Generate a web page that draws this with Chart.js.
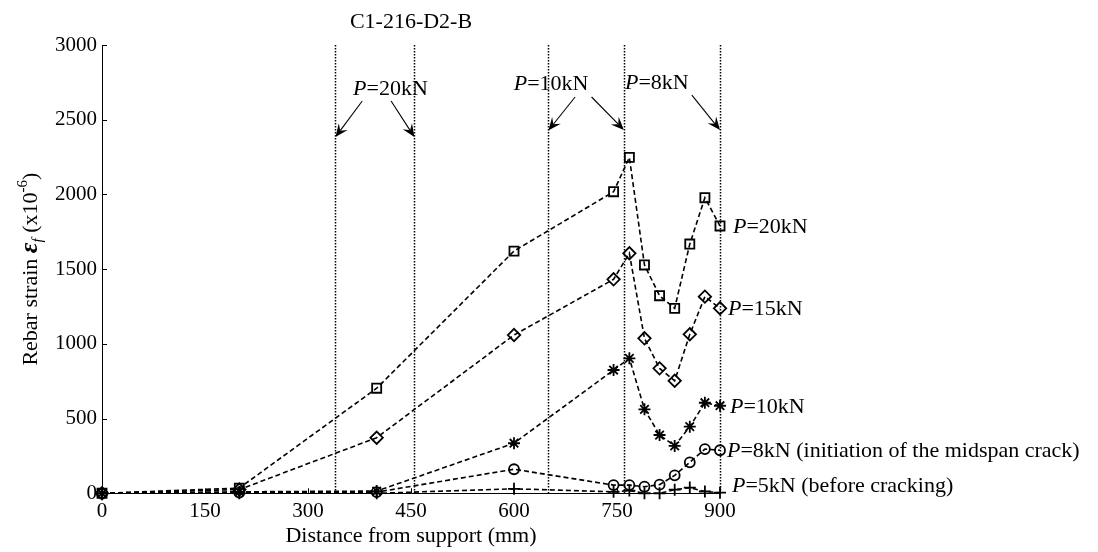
<!DOCTYPE html>
<html>
<head>
<meta charset="utf-8">
<script src="https://cdn.jsdelivr.net/npm/chart.js@4.4.1/dist/chart.umd.min.js"></script>
<style>
  html, body { margin: 0; padding: 0; background: #ffffff; }
  #wrap { width: 1098px; height: 552px; position: relative; }
</style>
</head>
<body>
<div id="wrap"><canvas id="c" width="1098" height="552"></canvas></div>
<script>
// Gauge positions along the bar (mm from support)
const distances = [0, 200, 400, 600, 745, 768, 790, 812, 834, 856, 878, 900];

// Rebar strain (x10^-6) at each load step
const strain20kN = [0, 35, 703, 1621, 2018, 2248, 1528, 1322, 1238, 1668, 1978, 1789];
const strain15kN = [0, 25, 372, 1059, 1432, 1606, 1037, 836, 753, 1064, 1316, 1238];
const strain10kN = [0, 10, 15, 335, 825, 903, 562, 390, 317, 446, 606, 586];
const strain8kN  = [0, 5, 8, 161, 55, 55, 44, 58, 120, 207, 296, 288];
const strain5kN  = [0, 0, 0, 30, 10, 18, 0, 0, 24, 38, 12, 4];

// Axis ticks
const xTicks = [0, 150, 300, 450, 600, 750, 900];
const yTicks = [0, 500, 1000, 1500, 2000, 2500, 3000];

// Crack locations observed at the given loads (mm)
const crackLines = [340, 455, 650, 760, 900];

// Series end labels (the italic P is drawn separately)
const seriesLoads = ['=20kN', '=15kN', '=10kN', '=8kN (initiation of the midspan crack)', '=5kN (before cracking)'];
const markerStyles = ['rect', 'rectRot', 'star', 'circle', 'cross'];

// Load labels pointing at the crack lines: [x mm, strain] anchors
const crackNotes = [
  { load: '=20kN', at: [420, 2712], arrows: [[[379, 2625], [340, 2384]], [[421, 2625], [455, 2384]]] },
  { load: '=10kN', at: [654, 2746], arrows: [[[689, 2652], [650, 2428]], [[713, 2652], [760, 2432]]] },
  { load: '=8kN',  at: [808, 2754], arrows: [[[859, 2665], [900, 2431]]] }
];

const FONT = 'Liberation Serif';
const seriesValues = [strain20kN, strain15kN, strain10kN, strain8kN, strain5kN];
const pointRadii = [6.4, 6.2, 6, 5, 6];
const endLabelDx = [13, 8, 10, 7, 12];
const endLabelDy = [0, 0, 0, 0, -8];

function drawRuns(ctx, runs, x, y, align) {
  let total = 0;
  runs.forEach(r => { ctx.font = r.f; total += ctx.measureText(r.t).width; });
  let cx = align === 'center' ? x - total / 2 : x;
  runs.forEach(r => {
    ctx.font = r.f;
    ctx.fillText(r.t, cx, y + (r.dy || 0));
    cx += ctx.measureText(r.t).width;
  });
}

function drawArrow(ctx, x1, y1, x2, y2) {
  const ang = Math.atan2(y2 - y1, x2 - x1);
  const len = 13, half = 5.5, notch = 8;
  const cs = Math.cos(ang), sn = Math.sin(ang);
  ctx.beginPath();
  ctx.moveTo(x1, y1);
  ctx.lineTo(x2 - cs * notch, y2 - sn * notch);
  ctx.lineWidth = 1.1;
  ctx.strokeStyle = '#000';
  ctx.stroke();
  const bx = x2 - cs * len, by = y2 - sn * len;
  const nx = -sn, ny = cs;
  ctx.beginPath();
  ctx.moveTo(x2, y2);
  ctx.lineTo(bx + nx * half, by + ny * half);
  ctx.lineTo(x2 - cs * notch, y2 - sn * notch);
  ctx.lineTo(bx - nx * half, by - ny * half);
  ctx.closePath();
  ctx.fillStyle = '#000';
  ctx.fill();
}

const decorations = {
  id: 'decorations',
  beforeDatasetsDraw(chart) {
    const { ctx, chartArea, scales: { x, y } } = chart;
    ctx.save();
    // dotted crack lines
    ctx.strokeStyle = '#000';
    ctx.lineWidth = 1.5;
    ctx.setLineDash([1.5, 1.5]);
    crackLines.forEach(v => {
      const px = Math.round(x.getPixelForValue(v)) + 0.5;
      ctx.beginPath();
      ctx.moveTo(px, chartArea.top);
      ctx.lineTo(px, chartArea.bottom);
      ctx.stroke();
    });
    ctx.setLineDash([]);
    // inward tick marks
    ctx.lineWidth = 1;
    yTicks.forEach(v => {
      const py = Math.round(y.getPixelForValue(v)) + 0.5;
      ctx.beginPath();
      ctx.moveTo(chartArea.left, py);
      ctx.lineTo(chartArea.left + 5, py);
      ctx.stroke();
    });
    xTicks.forEach(v => {
      const px = Math.round(x.getPixelForValue(v)) + 0.5;
      ctx.beginPath();
      ctx.moveTo(px, chartArea.bottom);
      ctx.lineTo(px, chartArea.bottom - 5);
      ctx.stroke();
    });
    ctx.restore();
  },
  afterDraw(chart) {
    const { ctx, chartArea, scales: { x, y } } = chart;
    ctx.save();
    ctx.fillStyle = '#000';
    ctx.textBaseline = 'alphabetic';
    ctx.textAlign = 'left';
    const big = '22px ' + FONT, ital = 'italic 22px ' + FONT;

    // title
    drawRuns(ctx, [{ t: 'C1-216-D2-B', f: big }], (chartArea.left + chartArea.right) / 2, 28, 'center');

    // x axis title
    drawRuns(ctx, [{ t: 'Distance from support (mm)', f: big }], (chartArea.left + chartArea.right) / 2, 542, 'center');

    // y axis title
    ctx.save();
    ctx.translate(37, (chartArea.top + chartArea.bottom) / 2);
    ctx.rotate(-Math.PI / 2);
    drawRuns(ctx, [
      { t: 'Rebar strain ', f: big },
      { t: '\u03b5', f: 'italic bold 26px ' + FONT },
      { t: 'f', f: 'italic 15px ' + FONT, dy: 5 },
      { t: ' (x10', f: big },
      { t: '-6', f: '15px ' + FONT, dy: -10 },
      { t: ')', f: big }
    ], 0, 0, 'center');
    ctx.restore();

    // series end labels
    seriesValues.forEach((vals, i) => {
      const last = vals.length - 1;
      const px = x.getPixelForValue(distances[last]) + endLabelDx[i];
      const py = y.getPixelForValue(vals[last]) + endLabelDy[i] + 7;
      drawRuns(ctx, [{ t: 'P', f: ital }, { t: seriesLoads[i], f: big }], px, py, 'left');
    });

    // crack annotations with arrows
    crackNotes.forEach(n => {
      const px = x.getPixelForValue(n.at[0]);
      const py = y.getPixelForValue(n.at[1]) + 7;
      drawRuns(ctx, [{ t: 'P', f: ital }, { t: n.load, f: big }], px, py, 'center');
      n.arrows.forEach(a => {
        drawArrow(ctx,
          x.getPixelForValue(a[0][0]), y.getPixelForValue(a[0][1]),
          x.getPixelForValue(a[1][0]), y.getPixelForValue(a[1][1]));
      });
    });
    ctx.restore();
  }
};

const datasets = seriesValues.map((vals, i) => ({
  label: 'P' + seriesLoads[i],
  data: distances.map((d, k) => ({ x: d, y: vals[k] })),
  borderColor: '#000',
  borderWidth: 1.6,
  borderDash: [5, 3],
  pointStyle: markerStyles[i],
  pointRadius: pointRadii[i],
  pointBorderWidth: 1.8,
  pointBorderColor: '#000',
  pointBackgroundColor: 'rgba(0,0,0,0)',
  tension: 0,
  fill: false,
  clip: false
}));

new Chart(document.getElementById('c'), {
  type: 'line',
  data: { datasets },
  options: {
    responsive: false,
    devicePixelRatio: 1,
    animation: false,
    layout: { padding: { left: 0, right: 378, top: 45, bottom: 0 } },
    plugins: { legend: { display: false }, tooltip: { enabled: false }, title: { display: false } },
    scales: {
      x: {
        type: 'linear',
        min: 0, max: 900,
        afterBuildTicks: s => { s.ticks = xTicks.map(v => ({ value: v })); },
        afterFit: s => { s.height = 58.7; },
        grid: { drawOnChartArea: false, drawTicks: false },
        border: { display: true, color: '#000', width: 1 },
        ticks: { color: '#000', font: { family: FONT, size: 21 }, padding: 6, maxRotation: 0, autoSkip: false,
                 callback: v => String(v) }
      },
      y: {
        type: 'linear',
        min: 0, max: 3000,
        afterBuildTicks: s => { s.ticks = yTicks.map(v => ({ value: v })); },
        afterFit: s => { s.width = 102; },
        grid: { drawOnChartArea: false, drawTicks: false },
        border: { display: true, color: '#000', width: 1 },
        ticks: { color: '#000', font: { family: FONT, size: 21 }, padding: 5, autoSkip: false,
                 callback: v => String(v) }
      }
    }
  },
  plugins: [decorations]
});
</script>
</body>
</html>
